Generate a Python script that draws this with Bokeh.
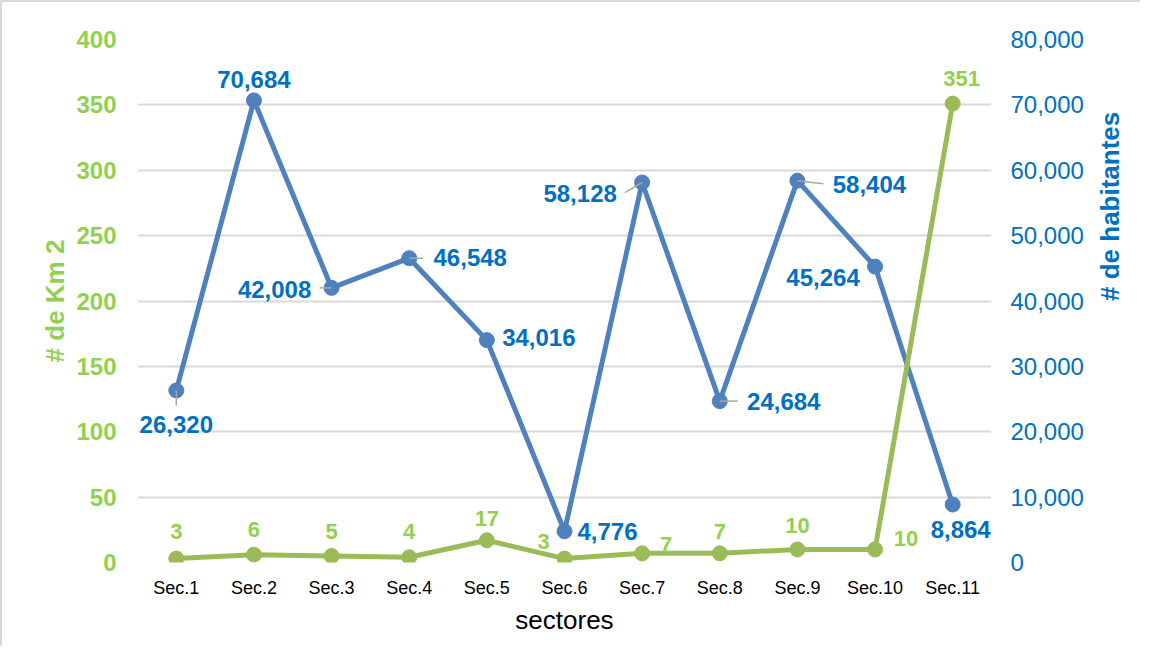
import math
from bokeh.plotting import figure
from bokeh.models import (ColumnDataSource, FactorRange, Range1d, LinearAxis,
                          SingleIntervalTicker, NumeralTickFormatter, LabelSet)
from bokeh.core.properties import value
from bokeh.embed import file_html
from bokeh.resources import INLINE

# ---- data ----
sectors = ["Sec.1", "Sec.2", "Sec.3", "Sec.4", "Sec.5", "Sec.6",
           "Sec.7", "Sec.8", "Sec.9", "Sec.10", "Sec.11"]
km2 = [3, 6, 5, 4, 17, 3, 7, 7, 10, 10, 351]
habitantes = [26320, 70684, 42008, 46548, 34016, 4776,
              58128, 24684, 58404, 45264, 8864]

# ---- styles ----
FONT = "Liberation Sans"
GREEN_LINE = "#9BBB59"
GREEN_TEXT = "#92D050"
BLUE_LINE = "#4F81BD"
BLUE_TEXT = "#0070C0"
GRID = "#d9d9d9"

# label offsets (screen px, positive dy = up) relative to each point
blue_dx = [0, 0, -57, 61, 52, 43, -62, 64, 72, -52, 8]
blue_dy = [-34, 21, -2, 1, 3, 0, -11, 0, -4, -11, -25]
green_dx = [0, 0, 0, 0, 0, -21, 24, 0, 0, 31, 9]
green_dy = [27, 25, 24, 26, 22, 17, 9, 22, 24, 11, 25]

# leader lines for some blue labels
leader_idx = [0, 2, 3, 6, 7, 8]
leader_len = [15, 12, 14, 20, 18, 26]
leader_ang = [-math.pi / 2, math.pi, 0.0, -2.61, 0.0, -0.115]

p = figure(x_range=FactorRange(factors=sectors, range_padding=0),
           y_range=Range1d(0, 400),
           width=1140, height=646, output_backend="svg",
           toolbar_location=None,
           min_border_left=135, min_border_right=139,
           min_border_top=37, min_border_bottom=86,
           styles={"border-left": "2px solid #d9d9d9",
                   "border-top": "2px solid #d9d9d9"})
p.outline_line_color = None
p.extra_y_ranges = {"hab": Range1d(0, 80000)}

# grid
p.xgrid.grid_line_color = None
p.ygrid.grid_line_color = GRID
p.ygrid.grid_line_width = 2

def plain(ax):
    ax.axis_line_color = None
    ax.major_tick_line_color = None
    ax.minor_tick_line_color = None
    ax.major_tick_out = 0
    ax.major_tick_in = 0
    ax.minor_tick_out = 0
    ax.minor_tick_in = 0

# left axis
la = p.yaxis[0]
plain(la)
la.ticker = SingleIntervalTicker(interval=50)
la.major_label_text_font = FONT
la.major_label_text_font_size = "24px"
la.major_label_text_font_style = "bold"
la.major_label_text_color = GREEN_TEXT
la.major_label_standoff = 21
la.axis_label = "# de Km 2"
la.axis_label_text_font = FONT
la.axis_label_text_font_size = "26px"
la.axis_label_text_font_style = "bold"
la.axis_label_text_color = GREEN_TEXT
la.axis_label_standoff = 3

# right axis
ra = LinearAxis(y_range_name="hab",
                ticker=SingleIntervalTicker(interval=10000),
                formatter=NumeralTickFormatter(format="0,0"))
plain(ra)
ra.major_label_text_font = FONT
ra.major_label_text_font_size = "24px"
ra.major_label_text_color = BLUE_TEXT
ra.major_label_standoff = 19
ra.axis_label = "# de habitantes"
ra.axis_label_text_font = FONT
ra.axis_label_text_font_size = "26px"
ra.axis_label_text_font_style = "bold"
ra.axis_label_text_color = BLUE_TEXT
ra.axis_label_standoff = 23
ra.axis_label_orientation = math.pi / 2
p.add_layout(ra, "right")

# x axis
xa = p.xaxis[0]
plain(xa)
xa.major_label_text_font = FONT
xa.major_label_text_font_size = "18px"
xa.major_label_text_color = "#000000"
xa.major_label_standoff = 15
xa.axis_label = "sectores"
xa.axis_label_text_font = FONT
xa.axis_label_text_font_size = "26px"
xa.axis_label_text_font_style = "normal"
xa.axis_label_text_color = "#000000"
xa.axis_label_standoff = 4

src = ColumnDataSource(dict(
    x=sectors, km2=km2, hab=habitantes,
    km2_txt=[f"{v:,}" for v in km2],
    hab_txt=[f"{v:,}" for v in habitantes],
    bdx=blue_dx, bdy=blue_dy, gdx=green_dx, gdy=green_dy))

lsrc = ColumnDataSource(dict(
    x=[sectors[i] for i in leader_idx],
    y=[habitantes[i] for i in leader_idx],
    length=leader_len, angle=leader_ang))

# blue series
p.line("x", "hab", source=src, y_range_name="hab", line_color=BLUE_LINE,
       line_width=5)
p.scatter("x", "hab", source=src, y_range_name="hab", size=15,
          fill_color=BLUE_LINE, line_color=BLUE_LINE)
# green series
p.line("x", "km2", source=src, line_color=GREEN_LINE, line_width=5)
p.scatter("x", "km2", source=src, size=15, fill_color=GREEN_LINE,
          line_color=GREEN_LINE)

# leader lines
p.ray("x", "y", length="length", angle="angle", length_units="screen",
      source=lsrc, y_range_name="hab", line_color="#a6a6a6", line_width=1.5)

# data labels
blue_labels = LabelSet(x="x", y="hab", text="hab_txt", source=src,
                       y_range_name="hab", x_offset="bdx", y_offset="bdy",
                       text_align="center", text_baseline="middle",
                       text_font=value(FONT), text_font_size=value("24px"),
                       text_font_style="bold", text_color=BLUE_TEXT)
green_labels = LabelSet(x="x", y="km2", text="km2_txt", source=src,
                        x_offset="gdx", y_offset="gdy",
                        text_align="center", text_baseline="middle",
                        text_font=value(FONT), text_font_size=value("22px"),
                        text_font_style="bold", text_color=GREEN_TEXT)
p.add_layout(blue_labels)
p.add_layout(green_labels)

open("out.html", "w").write(file_html(p, INLINE))
